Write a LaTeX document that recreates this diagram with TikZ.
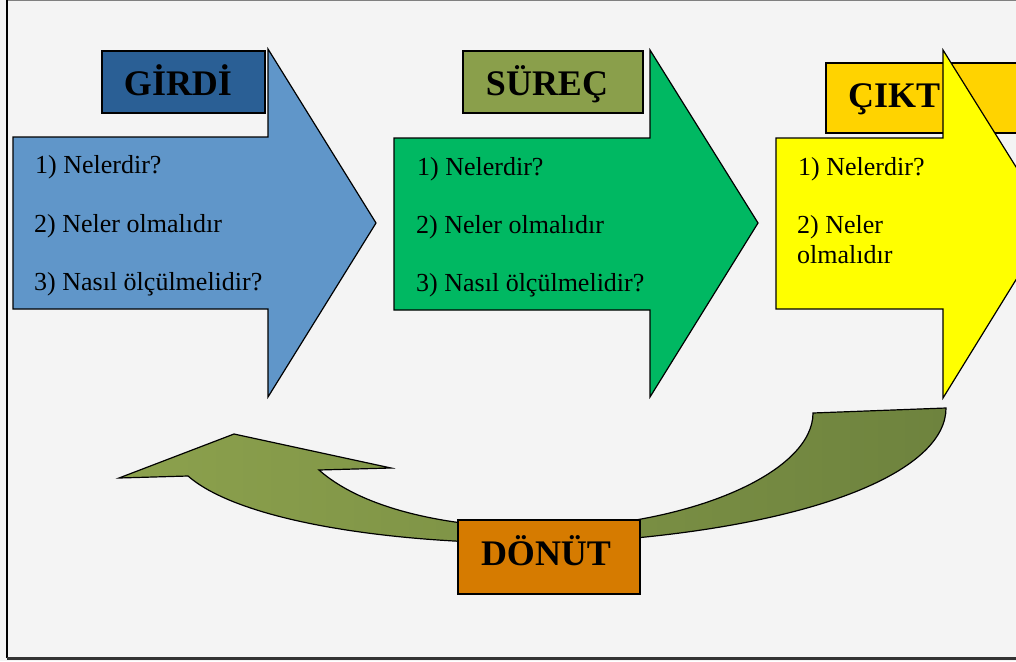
\documentclass[tikz,border=0pt]{standalone}
\usepackage{fontspec}
\setmainfont{Liberation Serif}
\definecolor{bg}{HTML}{F4F4F4}
\definecolor{girdiA}{HTML}{6096C9}
\definecolor{girdiB}{HTML}{2A5F95}
\definecolor{surecA}{HTML}{00B862}
\definecolor{surecB}{HTML}{8A9F4B}
\definecolor{ciktiA}{HTML}{FFFF00}
\definecolor{ciktiB}{HTML}{FFD300}
\definecolor{donutC}{HTML}{D67B00}
\definecolor{fbL}{HTML}{8CA14D}
\definecolor{fbR}{HTML}{6E833E}
\begin{document}
\begin{tikzpicture}[x=1pt,y=-1pt,
  arrowshape/.style={draw=black,line width=1.2pt,line join=miter},
  titlebox/.style={draw=black,line width=1.2pt},
  titletext/.style={inner sep=0pt,anchor=base,font=\fontsize{36}{40}\selectfont\bfseries},
  itemtext/.style={inner sep=0pt,anchor=base west,font=\fontsize{26}{30}\selectfont,align=left}]
\useasboundingbox (0,0) rectangle (1016,661);
\fill[bg] (0,0) rectangle (1016,661);
\begin{scope}
\clip (0,0) rectangle (1016,661);
% frame
\draw[gray,line width=1pt] (7,1) -- (1016,1);
\draw[black,line width=2pt] (7,0) -- (7,658);
\draw[black!80,line width=3pt] (7,658) -- (1016,658);

% ---------- GIRDI ----------
\draw[arrowshape,fill=girdiA] (13,137) -- (268,137) -- (268,49) -- (376,223) -- (268,397) -- (268,309) -- (13,309) -- cycle;
\draw[titlebox,fill=girdiB] (102,51) rectangle (265,113);
\node[titletext] (girdi) at (178,95) {GİRDİ};
\node[itemtext] (g1) at (35,173) {1) Nelerdir?};
\node[itemtext] (g2) at (34,232) {2) Neler olmalıdır};
\node[itemtext] (g3) at (34,290) {3) Nasıl ölçülmelidir?};

% ---------- SUREC ----------
\draw[arrowshape,fill=surecA] (394,138) -- (650,138) -- (650,50) -- (758,223) -- (650,397) -- (650,310) -- (394,310) -- cycle;
\draw[titlebox,fill=surecB] (463,51) rectangle (643,113);
\node[titletext] (surec) at (547,95) {SÜREÇ};
\node[itemtext] (s1) at (417,175) {1) Nelerdir?};
\node[itemtext] (s2) at (416,233) {2) Neler olmalıdır};
\node[itemtext] (s3) at (416,291) {3) Nasıl ölçülmelidir?};

% ---------- CIKTI ----------
\draw[titlebox,fill=ciktiB] (826,63) rectangle (1100,133);
\node[titletext,anchor=base west] (cikti) at (848,107) {ÇIKT};
\draw[arrowshape,fill=ciktiA] (776,138) -- (943,138) -- (943,50) -- (1051,223) -- (943,398) -- (943,309) -- (776,309) -- cycle;
\node[itemtext] (c1) at (798,175) {1) Nelerdir?};
\node[itemtext] (c2) at (797,233) {2) Neler};
\node[itemtext] (c3) at (797,263) {olmalıdır};

% ---------- DONUT curved arrow ----------
\draw[arrowshape,line width=1.2pt,left color=fbL,right color=fbR]
  (946,408) .. controls (946,470) and (820,525) .. (600,541)
  .. controls (450,550) and (250,530) .. (188,476)
  -- (119,478) -- (234,434) -- (391,468) -- (319,470)
  .. controls (370,515) and (470,530) .. (560,528)
  .. controls (700,522) and (813,470) .. (813,413)
  -- cycle;
\draw[titlebox,fill=donutC] (458,520) rectangle (640,594);
\node[titletext] (donut) at (546,565) {DÖNÜT};
\end{scope}
\end{tikzpicture}
\end{document}
